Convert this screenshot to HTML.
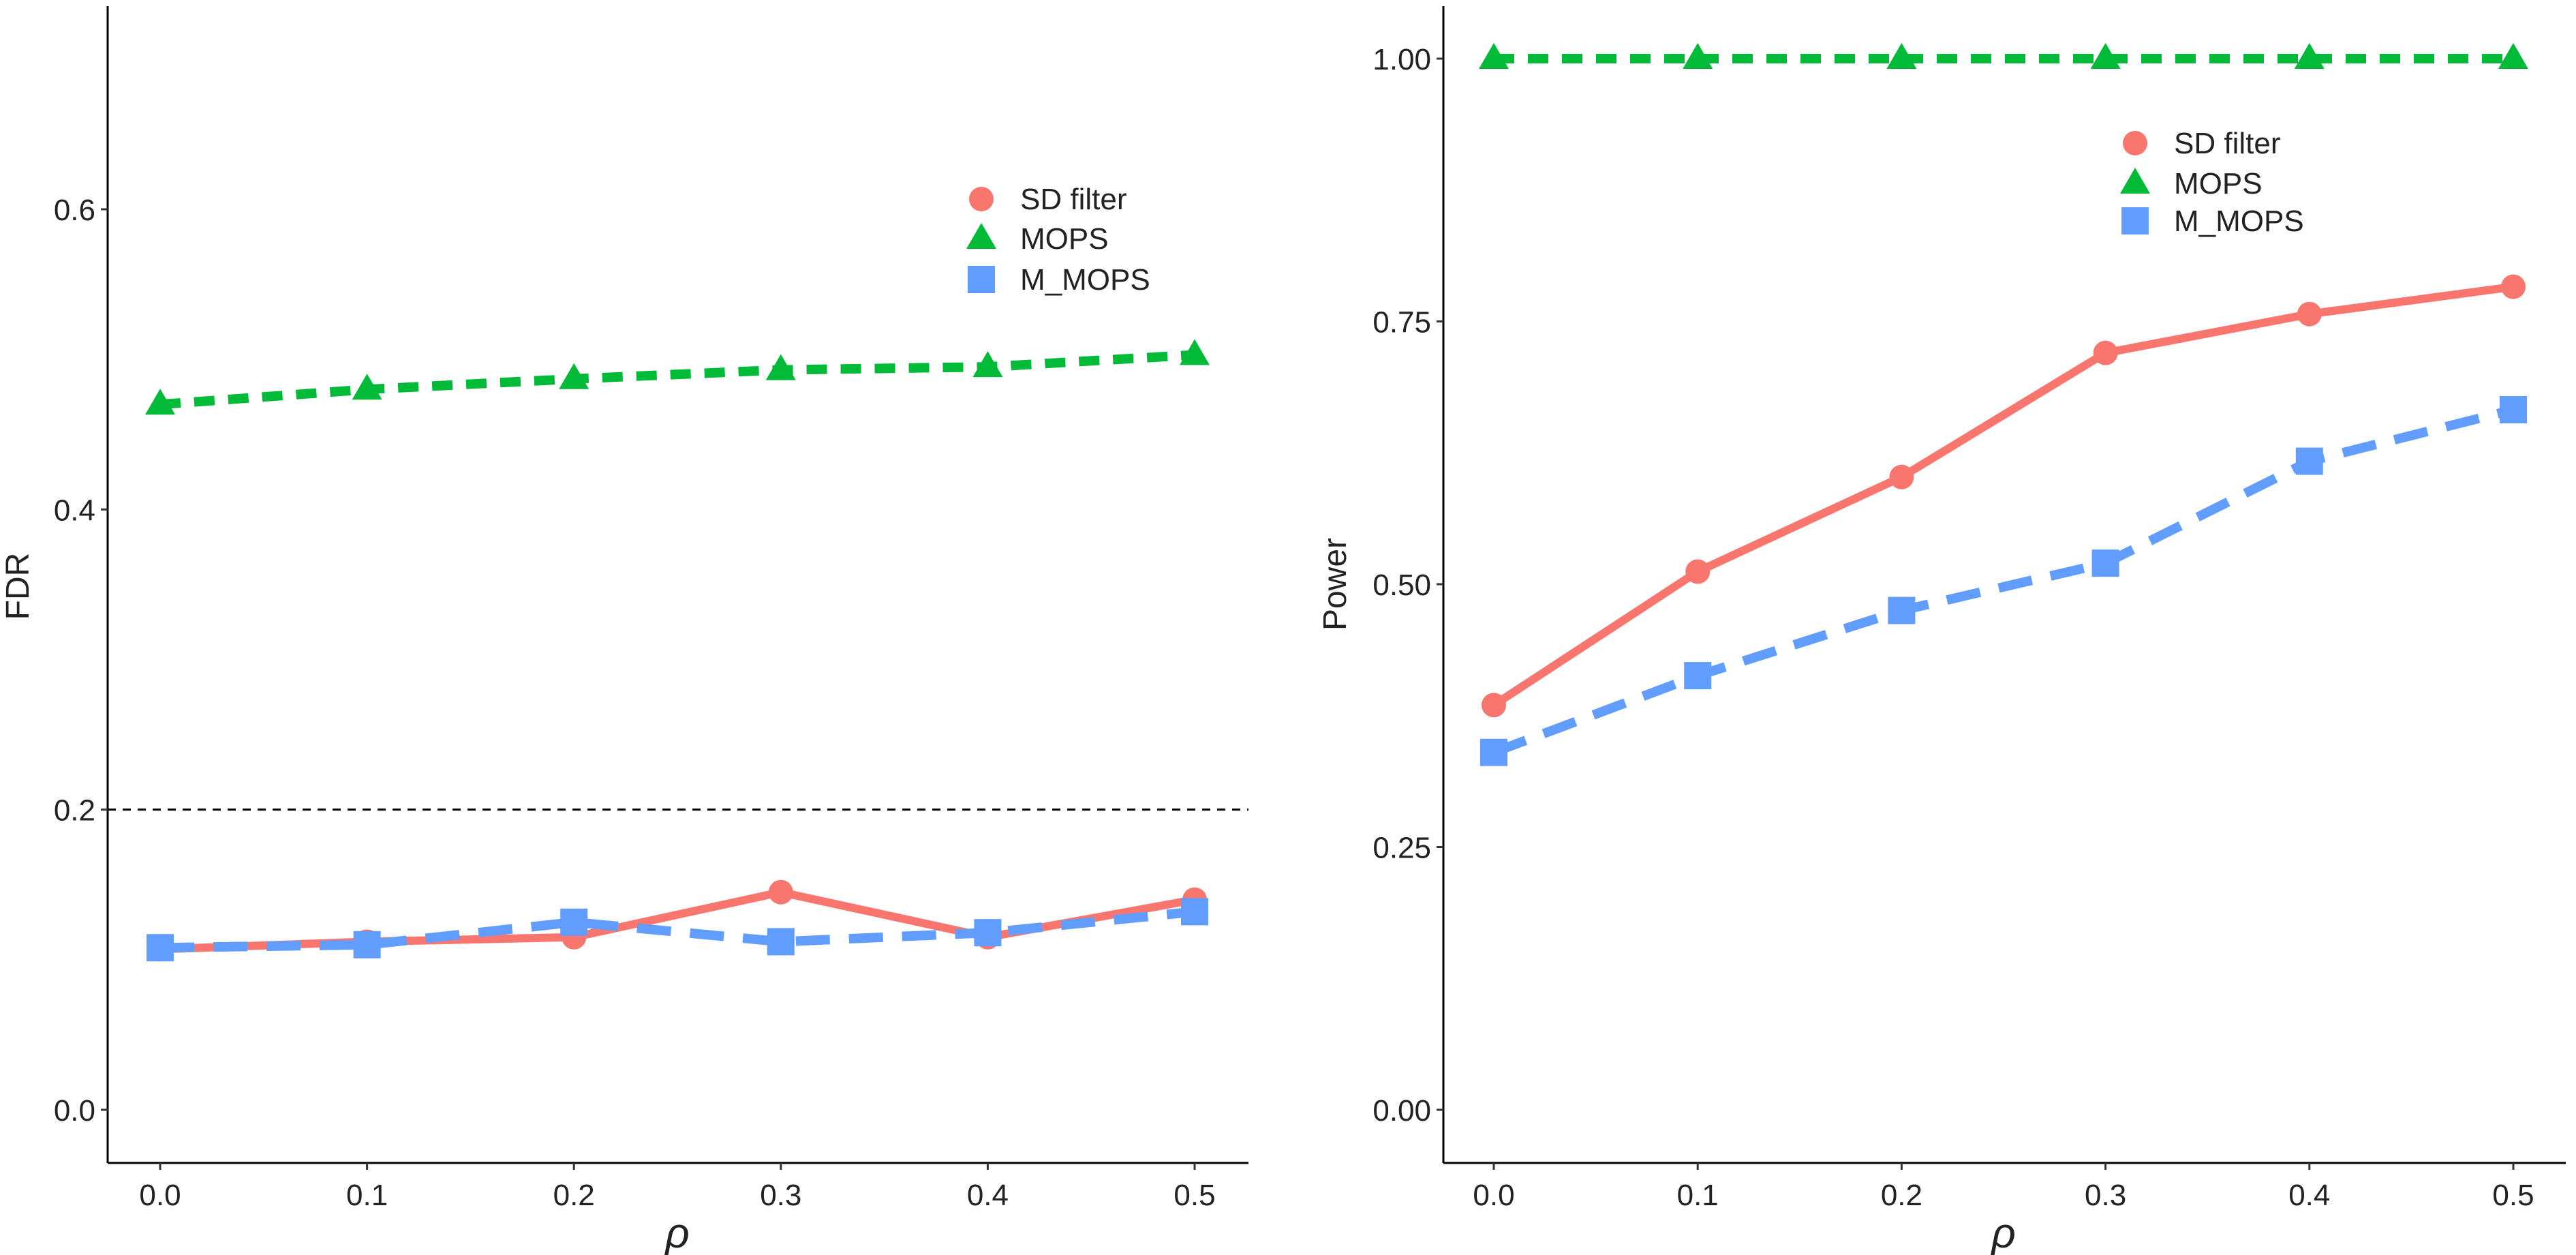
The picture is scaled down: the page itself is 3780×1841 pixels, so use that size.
<!DOCTYPE html>
<html><head><meta charset="utf-8"><style>body{margin:0;background:#fff}svg{display:block}text{font-family:"Liberation Sans",sans-serif;fill:#222}</style></head>
<body>
<svg id="c" width="3780" height="1841" xmlns="http://www.w3.org/2000/svg"></svg>
<script>
const categories=[0.0,0.1,0.2,0.3,0.4,0.5];
const xTickLabels=["0.0","0.1","0.2","0.3","0.4","0.5"];
const fdrSD=[0.107,0.112,0.115,0.145,0.115,0.14];
const fdrMOPS=[0.47,0.48,0.487,0.493,0.495,0.503];
const fdrMM=[0.108,0.11,0.125,0.112,0.118,0.132];
const fdrTicks=[0.0,0.2,0.4,0.6];
const fdrTickLabels=["0.0","0.2","0.4","0.6"];
const powSD=[0.385,0.512,0.602,0.72,0.757,0.783];
const powMOPS=[1,1,1,1,1,1];
const powMM=[0.34,0.413,0.475,0.52,0.617,0.666];
const powTicks=[0,0.25,0.5,0.75,1];
const powTickLabels=["0.00","0.25","0.50","0.75","1.00"];
const seriesNames=["SD filter","MOPS","M_MOPS"];

const svg=document.getElementById('c');const NS='http://www.w3.org/2000/svg';
function el(t,a,p){const e=document.createElementNS(NS,t);for(const k in a)e.setAttribute(k,a[k]);(p||svg).appendChild(e);return e;}
const RED='#F8766D',GREEN='#00BA38',BLUE='#619CFF';
function marker(g,kind,x,y,color){
 let m;
 if(kind==='c')m=el('circle',{cx:x,cy:y,r:18,fill:color},g);
 else if(kind==='t')m=el('polygon',{points:`${x},${y-23} ${x-22},${y+15} ${x+22},${y+15}`,fill:color},g);
 else m=el('rect',{x:x-20,y:y-20,width:40,height:40,fill:color},g);
 return m;
}
function panel(o){
 const g=el('g',{});
 
 
 const xs=v=>o.x0+(v-categories[0])/(categories[5]-categories[0])*(o.x1-o.x0);
 const ys=v=>o.y0-(v-o.v0)/(o.v1-o.v0)*(o.y0-o.yv1);
 const ax=el('line',{x1:o.ax,y1:9,x2:o.ax,y2:o.axY,stroke:'#000','stroke-width':3},g);
 
 const bx=el('line',{x1:o.ax,y1:o.axY,x2:o.right,y2:o.axY,stroke:'#000','stroke-width':3},g);
 
 o.yt.forEach((v,i)=>{const y=ys(v);el('line',{x1:o.ax-10,y1:y,x2:o.ax,y2:y,stroke:'#333','stroke-width':3},g);
  const t=el('text',{x:o.ax-18,y:y+16,'text-anchor':'end','font-size':44},g);t.textContent=o.ytl[i];
  });
 categories.forEach((v,i)=>{const x=xs(v);el('line',{x1:x,y1:o.axY,x2:x,y2:o.axY+10,stroke:'#333','stroke-width':3},g);
  const t=el('text',{x:x,y:o.axY+62,'text-anchor':'middle','font-size':44},g);t.textContent=xTickLabels[i];
  });
 const xt=el('text',{x:(o.x0+o.x1)/2,y:1830,'text-anchor':'middle','font-size':62,'font-style':'italic','font-family':'Liberation Serif,serif'},g);xt.textContent='ρ';
 
 const yt=el('text',{x:o.ytx,y:o.yty,'text-anchor':'middle','font-size':48,transform:`rotate(-90 ${o.ytx} ${o.yty})`},g);yt.textContent=o.ytitle;
 
 if(o.ref!==undefined){const r=el('line',{x1:o.ax,y1:ys(o.ref),x2:o.right,y2:ys(o.ref),stroke:'#000','stroke-width':3,'stroke-dasharray':'12 10'},g);
  }
 const ser=[[o.mops,GREEN,'t','30 20',14,'mops-line'],[o.sd,RED,'c','',12,'sd-filter-line'],[o.mm,BLUE,'s','50 28',14,'m-mops-line']];
 ser.forEach(s=>{const pts=s[0].map((v,i)=>xs(categories[i])+','+ys(v)).join(' ');
  const a={points:pts,fill:'none',stroke:s[1],'stroke-width':s[4]};if(s[3])a['stroke-dasharray']=s[3];
  const p=el('polyline',a,g);
  s[0].forEach((v,i)=>{const m=marker(g,s[2],xs(categories[i]),ys(v),s[1]);});});
 const kinds=[['c',RED],['t',GREEN],['s',BLUE]];
 kinds.forEach((k,i)=>{const y=o.ly[i];const m=marker(g,k[0],o.lx,y,k[1]);
  
  const t=el('text',{x:o.lx+57,y:y+15,'font-size':44},g);t.textContent=seriesNames[i];
  });
}
panel({name:'fdr-panel',ax:158,axY:1706,right:1832,x0:235,x1:1753,v0:0,y0:1628,v1:0.6,yv1:307,yt:fdrTicks,ytl:fdrTickLabels,
 ytitle:'FDR',ytx:42,yty:860,ref:0.2,sd:fdrSD,mops:fdrMOPS,mm:fdrMM,lx:1440,ly:[292,350,410]});
panel({name:'power-panel',ax:2118,axY:1706,right:3765,x0:2192,x1:3688,v0:0,y0:1628,v1:1,yv1:86,yt:powTicks,ytl:powTickLabels,
 ytitle:'Power',ytx:1975,yty:857,sd:powSD,mops:powMOPS,mm:powMM,lx:3133,ly:[210,269,324]});
</script>
</body></html>
